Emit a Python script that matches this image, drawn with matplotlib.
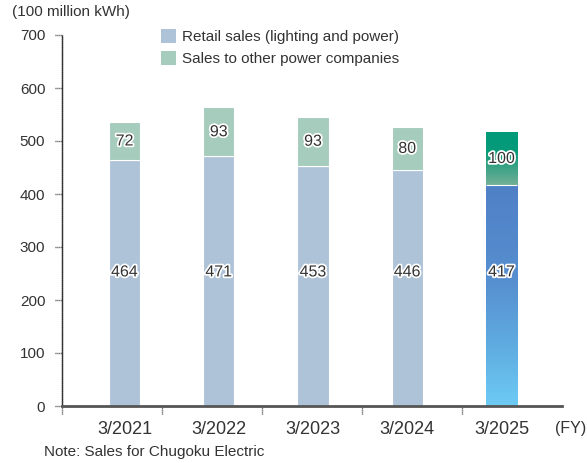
import matplotlib
matplotlib.use("Agg")
import matplotlib.pyplot as plt
import matplotlib.patheffects as pe
import numpy as np
from matplotlib.colors import LinearSegmentedColormap
from matplotlib.patches import Patch

plt.rcParams['font.family'] = ['Liberation Sans', 'DejaVu Sans']

categories = ["3/2021", "3/2022", "3/2023", "3/2024", "3/2025"]
retail = [464, 471, 453, 446, 417]
other = [72, 93, 93, 80, 100]
yticks = [0, 100, 200, 300, 400, 500, 600, 700]

retail_color = "#AFC3D8"
other_color = "#A5CCBC"
text_color = "#333333"
axis_color = "#555555"

W, H = 587, 463
fig = plt.figure(figsize=(W / 100, H / 100), dpi=100)
ax = fig.add_axes([62 / W, (H - 406) / H, 500 / W, 371 / H])

x = np.arange(len(categories))
bar_w = 0.33
unit = 94.25
xl = -62.5 / unit
xr = xl + 500 / unit

n = len(categories)
ax.bar(x[:-1], retail[:-1], width=bar_w, color=retail_color,
       edgecolor="white", linewidth=0.8, zorder=2)
ax.bar(x[:-1], other[:-1], bottom=retail[:-1], width=bar_w, color=other_color,
       edgecolor="white", linewidth=0.8, zorder=2)

last_r = ax.bar(x[-1:], retail[-1:], width=bar_w, color="none", edgecolor="none", zorder=2)[0]
last_o = ax.bar(x[-1:], other[-1:], bottom=retail[-1:], width=bar_w, color="none",
                edgecolor="none", zorder=2)[0]

cm_r = LinearSegmentedColormap.from_list(
    "r", [(0.0, "#6DCBF4"), (0.25, "#60AEE2"), (0.55, "#5790D0"), (1.0, "#4F80C6")])
cm_o = LinearSegmentedColormap.from_list(
    "o", [(0.0, "#72AF97"), (0.4, "#2FA081"), (0.65, "#079B7A"), (1.0, "#009A78")])

grad = np.linspace(0, 1, 256).reshape(-1, 1)
for p, cm in ((last_r, cm_r), (last_o, cm_o)):
    ext = (p.get_x(), p.get_x() + p.get_width(), p.get_y(), p.get_y() + p.get_height())
    im = ax.imshow(grad, cmap=cm, aspect="auto", extent=ext, origin="lower", zorder=2)
    im.set_clip_path(p)
ax.set_xlim(xl, xr)
ax.set_ylim(0, 700)
ax.bar(x[-1:], [0], bottom=retail[-1:], width=bar_w, color="none",
       edgecolor="white", linewidth=0.8, zorder=3)

stroke = [pe.withStroke(linewidth=2.5, foreground="white")]
for i in range(n):
    ax.text(x[i], 253, str(retail[i]), ha="center", va="center", fontsize=11.5,
            color=text_color, path_effects=stroke, zorder=5)
    ax.text(x[i], retail[i] + other[i] / 2, str(other[i]), ha="center", va="center",
            fontsize=11.5, color=text_color, path_effects=stroke, zorder=5)

for s in ("top", "right"):
    ax.spines[s].set_visible(False)
ax.spines["left"].set_linestyle((0, (0.7, 0.7)))
ax.spines["left"].set_color("#333333")
ax.spines["left"].set_linewidth(1.0)
ax.spines["bottom"].set_color(axis_color)
ax.spines["bottom"].set_linewidth(2.0)
ax.spines["bottom"].set_zorder(4)

# y ticks: labels only, dotted tick marks drawn as lines
ax.set_yticks(yticks)
ax.set_yticklabels([str(v) for v in yticks])
ax.tick_params(axis="y", length=0, pad=12, labelsize=11, labelcolor=text_color)
ax.hlines(yticks, -7 / 500, 0, transform=ax.get_yaxis_transform(), colors="#333333",
          linewidth=1.0, linestyles=(0, (0.7, 0.7)), clip_on=False)

# category labels under bars; dotted separator ticks
ax.set_xticks(x)
ax.set_xticklabels(categories)
ax.tick_params(axis="x", which="major", length=0, pad=11, labelsize=13, labelcolor=text_color)
sep = xl + np.arange(n) * (100 / unit)
ax.vlines(sep, -8 / 371, 0, transform=ax.get_xaxis_transform(), colors="#333333",
          linewidth=1.0, linestyles=(0, (0.7, 0.7)), clip_on=False)

fig.text(12 / W, 1 - 12 / H, "(100 million kWh)", fontsize=11, color=text_color,
         ha="left", va="center")
fig.text(586 / W, 1 - 428 / H, "(FY)", fontsize=11.5, color=text_color,
         ha="right", va="center")
fig.text(44 / W, 1 - 452 / H, "Note: Sales for Chugoku Electric", fontsize=11,
         color=text_color, ha="left", va="center")

handles = [Patch(facecolor=retail_color, edgecolor="none"),
           Patch(facecolor=other_color, edgecolor="none")]
leg = fig.legend(handles, ["Retail sales (lighting and power)", "Sales to other power companies"],
                 loc="upper left", bbox_to_anchor=(161 / W, 1 - 29 / H), frameon=False,
                 fontsize=11, handlelength=1.0, handleheight=1.0, handletextpad=0.4,
                 labelspacing=0.45, borderaxespad=0, borderpad=0)
for t in leg.get_texts():
    t.set_color(text_color)

fig.savefig("out.png", dpi=100)
